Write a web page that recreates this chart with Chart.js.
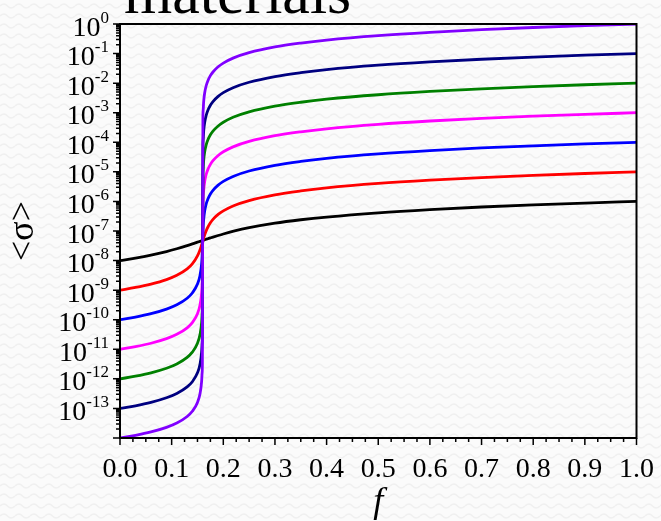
<!DOCTYPE html>
<html>
<head>
<meta charset="utf-8">
<script src="https://cdn.jsdelivr.net/npm/chart.js@4.4.1/dist/chart.umd.min.js"></script>
<style>
html,body{margin:0;padding:0;}
body{width:661px;height:521px;overflow:hidden;position:relative;background-color:#fbfbfb;
background-image:url("data:image/svg+xml,%3Csvg xmlns='http://www.w3.org/2000/svg' width='15' height='10'%3E%3Cpath d='M0 6 Q3.75 2 7.5 6 T15 6' fill='none' stroke='%23f0f0f0' stroke-width='1.5'/%3E%3C/svg%3E");}
#title{position:absolute;left:124px;top:-39px;font-family:'Liberation Serif','Times New Roman',serif;font-size:62px;line-height:62px;color:#000;white-space:nowrap;}
#c{position:absolute;left:0;top:0;}
</style>
</head>
<body>
<div id="title">materials</div>
<canvas id="c" width="661" height="521"></canvas>
<script>
// ---- data ----
const fValues = [0, 0.03, 0.06, 0.09, 0.11, 0.13, 0.14, 0.15, 0.155, 0.158, 0.159, 0.1595, 0.16, 0.1605, 0.161, 0.162, 0.164, 0.167, 0.17, 0.175, 0.18, 0.19, 0.2, 0.22, 0.25, 0.3, 0.35, 0.4, 0.5, 0.6, 0.7, 0.8, 0.9, 1.0];

const sigmaBlack = [1.0e-8, 1.21e-8, 1.52e-8, 2.01e-8, 2.51e-8, 3.21e-8, 3.66e-8, 4.18e-8, 4.48e-8, 4.66e-8, 4.72e-8, 4.76e-8, 4.79e-8, 4.82e-8, 4.85e-8, 4.92e-8, 5.05e-8, 5.26e-8, 5.47e-8, 5.84e-8, 6.23e-8, 7.05e-8, 7.93e-8, 9.82e-8, 1.29e-7, 1.84e-7, 2.40e-7, 2.97e-7, 4.13e-7, 5.30e-7, 6.48e-7, 7.65e-7, 8.82e-7, 1.0e-6];
const sigmaRed = [1.0e-9, 1.23e-9, 1.60e-9, 2.28e-9, 3.19e-9, 5.27e-9, 7.77e-9, 1.44e-8, 2.32e-8, 3.36e-8, 3.84e-8, 4.11e-8, 4.41e-8, 4.72e-8, 5.05e-8, 5.77e-8, 7.41e-8, 1.03e-7, 1.34e-7, 1.89e-7, 2.47e-7, 3.63e-7, 4.81e-7, 7.18e-7, 1.07e-6, 1.67e-6, 2.26e-6, 2.86e-6, 4.05e-6, 5.24e-6, 6.43e-6, 7.62e-6, 8.81e-6, 1.0e-5];
const sigmaBlue = [1.0e-10, 1.23e-10, 1.60e-10, 2.29e-10, 3.20e-10, 5.33e-10, 8.0e-10, 1.60e-9, 3.18e-9, 7.75e-9, 1.43e-8, 2.31e-8, 4.37e-8, 8.26e-8, 1.33e-7, 2.46e-7, 4.80e-7, 8.36e-7, 1.19e-6, 1.79e-6, 2.38e-6, 3.57e-6, 4.76e-6, 7.14e-6, 1.07e-5, 1.67e-5, 2.26e-5, 2.86e-5, 4.05e-5, 5.24e-5, 6.43e-5, 7.62e-5, 8.81e-5, 1.0e-4];
const sigmaMagenta = [1.0e-11, 1.23e-11, 1.60e-11, 2.29e-11, 3.20e-11, 5.33e-11, 8.0e-11, 1.60e-10, 3.20e-10, 8.0e-10, 1.60e-9, 3.18e-9, 4.36e-8, 5.98e-7, 1.19e-6, 2.38e-6, 4.76e-6, 8.33e-6, 1.19e-5, 1.79e-5, 2.38e-5, 3.57e-5, 4.76e-5, 7.14e-5, 1.07e-4, 1.67e-4, 2.26e-4, 2.86e-4, 4.05e-4, 5.24e-4, 6.43e-4, 7.62e-4, 8.81e-4, 1.0e-3];
const sigmaGreen = [1.0e-12, 1.23e-12, 1.60e-12, 2.29e-12, 3.20e-12, 5.33e-12, 8.0e-12, 1.60e-11, 3.20e-11, 8.0e-11, 1.60e-10, 3.20e-10, 4.36e-8, 5.95e-6, 1.19e-5, 2.38e-5, 4.76e-5, 8.33e-5, 1.19e-4, 1.79e-4, 2.38e-4, 3.57e-4, 4.76e-4, 7.14e-4, 1.07e-3, 1.67e-3, 2.26e-3, 2.86e-3, 4.05e-3, 5.24e-3, 6.43e-3, 7.62e-3, 8.81e-3, 1.0e-2];
const sigmaNavy = [1.0e-13, 1.23e-13, 1.60e-13, 2.29e-13, 3.20e-13, 5.33e-13, 8.0e-13, 1.60e-12, 3.20e-12, 8.0e-12, 1.60e-11, 3.20e-11, 4.36e-8, 5.95e-5, 1.19e-4, 2.38e-4, 4.76e-4, 8.33e-4, 1.19e-3, 1.79e-3, 2.38e-3, 3.57e-3, 4.76e-3, 7.14e-3, 1.07e-2, 1.67e-2, 2.26e-2, 2.86e-2, 4.05e-2, 5.24e-2, 6.43e-2, 7.62e-2, 8.81e-2, 1.0e-1];
const sigmaPurple = [1.0e-14, 1.23e-14, 1.60e-14, 2.29e-14, 3.20e-14, 5.33e-14, 8.0e-14, 1.60e-13, 3.20e-13, 8.0e-13, 1.60e-12, 3.20e-12, 4.36e-8, 5.95e-4, 1.19e-3, 2.38e-3, 4.76e-3, 8.33e-3, 1.19e-2, 1.79e-2, 2.38e-2, 3.57e-2, 4.76e-2, 7.14e-2, 0.107, 0.167, 0.226, 0.286, 0.405, 0.524, 0.643, 0.762, 0.881, 1.0];

const seriesValues = [sigmaBlack, sigmaRed, sigmaBlue, sigmaMagenta, sigmaGreen, sigmaNavy, sigmaPurple];
const seriesColors = ['#000000', '#ff0000', '#0000ff', '#ff00ff', '#008000', '#000080', '#8000ff'];

const xTickValues = [0, 0.1, 0.2, 0.3, 0.4, 0.5, 0.6, 0.7, 0.8, 0.9, 1.0];
const xTickLabels = ['0.0', '0.1', '0.2', '0.3', '0.4', '0.5', '0.6', '0.7', '0.8', '0.9', '1.0'];
const xMinorStep = 0.025;
const yTickBase = '10';
const yTickExponents = [0, -1, -2, -3, -4, -5, -6, -7, -8, -9, -10, -11, -12, -13];
const yMin = 1e-14, yMax = 1;
const xTitle = 'f';
const yTitle = '<σ>';

const SERIF = "'Liberation Serif','Times New Roman',serif";

const datasets = seriesValues.map((vals, i) => ({
  data: fValues.map((f, j) => ({x: f, y: vals[j]})),
  borderColor: seriesColors[i],
  backgroundColor: seriesColors[i],
  borderWidth: 2.8,
  pointRadius: 0,
  fill: false,
  tension: 0,
  cubicInterpolationMode: 'monotone',
  order: seriesValues.length - 1 - i
}));

const decor = {
  id: 'decor',
  afterDraw(chart) {
    const {ctx, chartArea: a, scales: {x, y}} = chart;
    ctx.save();
    ctx.strokeStyle = '#000';
    ctx.lineWidth = 1.5;
    ctx.beginPath();
    const nx = Math.round(1 / xMinorStep);
    for (let i = 0; i <= nx; i++) {
      const px = x.getPixelForValue(i * xMinorStep);
      const len = (i % 4 === 0) ? 7 : 4;
      ctx.moveTo(px, a.bottom);
      ctx.lineTo(px, a.bottom + len);
    }
    for (let e = -14; e <= 0; e++) {
      for (let m = 1; m <= 9; m++) {
        const v = m * Math.pow(10, e);
        if (v > yMax * 1.0001) break;
        const py = y.getPixelForValue(v);
        const len = m === 1 ? 7 : 4;
        ctx.moveTo(a.left - len, py);
        ctx.lineTo(a.left, py);
      }
    }
    ctx.stroke();
    ctx.lineWidth = 2;
    ctx.strokeRect(a.left, a.top, a.right - a.left, a.bottom - a.top);
    // y tick labels with superscript exponents
    ctx.fillStyle = '#000';
    ctx.textBaseline = 'alphabetic';
    ctx.textAlign = 'left';
    const rightEdge = 109;
    yTickExponents.forEach(e => {
      const py = y.getPixelForValue(Math.pow(10, e));
      const expStr = String(e);
      ctx.font = '17px ' + SERIF;
      const wE = ctx.measureText(expStr).width;
      ctx.font = '28px ' + SERIF;
      const wB = ctx.measureText(yTickBase).width;
      ctx.fillText(yTickBase, rightEdge - wE - wB, py + 11.5);
      ctx.font = '17px ' + SERIF;
      ctx.fillText(expStr, rightEdge - wE, py - 1.5);
    });
    ctx.restore();
  }
};

new Chart(document.getElementById('c'), {
  type: 'line',
  data: {datasets},
  options: {
    responsive: false,
    animation: false,
    layout: {padding: {top: 24, right: 20, bottom: 0, left: 0}},
    plugins: {legend: {display: false}, tooltip: {enabled: false}, title: {display: false}},
    scales: {
      x: {
        type: 'linear', min: 0, max: 1,
        afterBuildTicks: s => { s.ticks = xTickValues.map(v => ({value: v})); },
        afterFit: s => { s.height = 83; },
        grid: {display: false},
        border: {display: false},
        ticks: {
          callback: (v, i) => xTickLabels[i],
          font: {family: SERIF, size: 28},
          color: '#000', padding: 7, maxRotation: 0, autoSkip: false
        },
        title: {display: true, text: xTitle, color: '#000',
          font: {family: SERIF, size: 36, style: 'italic', lineHeight: 1},
          padding: {top: 0, bottom: 0}}
      },
      y: {
        type: 'logarithmic', min: yMin, max: yMax,
        afterFit: s => { s.width = 120; },
        grid: {display: false},
        border: {display: false},
        ticks: {display: false},
        title: {display: true, text: yTitle, color: '#000',
          font: {family: SERIF, size: 36, lineHeight: 1},
          padding: {top: 6, bottom: 0}}
      }
    }
  },
  plugins: [decor]
});
</script>
</body>
</html>
